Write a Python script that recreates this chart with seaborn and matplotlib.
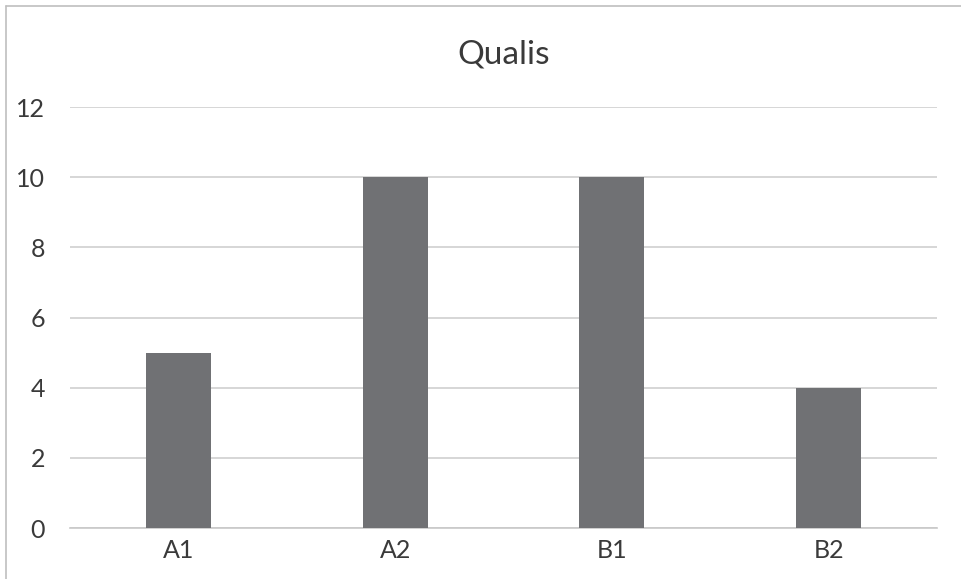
import matplotlib
matplotlib.use("Agg")
import matplotlib.pyplot as plt
from matplotlib.lines import Line2D
import seaborn as sns
import pandas as pd

categories = ["A1", "A2", "B1", "B2"]
values = [5, 10, 10, 4]
y_ticks = [0, 2, 4, 6, 8, 10, 12]

df = pd.DataFrame({"cat": categories, "val": values})

sns.set_theme(style="white")
plt.rcParams["font.family"] = ["Lato", "DejaVu Sans"]

W, H = 961, 579
fig = plt.figure(figsize=(W / 100, H / 100), dpi=100)
ax = fig.add_axes([70 / W, 1 - 528 / H, (937 - 70) / W, (528 - 107) / H])

sns.barplot(data=df, x="cat", y="val", color="#707174", width=0.3,
            saturation=1, linewidth=0, ax=ax, zorder=3)

ax.set_ylim(0, 12)
ax.set_yticks(y_ticks)
ax.set_xlim(-0.5, 3.5)
ax.yaxis.grid(True, color="#d0d0d0", linewidth=1.2, zorder=0)
ax.set_axisbelow(True)
for s in ["top", "right", "left"]:
    ax.spines[s].set_visible(False)
ax.spines["bottom"].set_color("#c8c8c8")
ax.spines["bottom"].set_linewidth(1.2)
ax.tick_params(axis="both", length=0, labelsize=18, colors="#3a3a3a")
ax.tick_params(axis="x", pad=8)
ax.tick_params(axis="y", pad=18)
ax.set_xlabel("")
ax.set_ylabel("")

fig.text(0.5 * (70 + 937) / W, 1 - 55 / H, "Qualis", ha="center", va="center",
         fontsize=24, color="#3a3a3a")

# chart frame (top and left edges)
fig.add_artist(Line2D([6 / W, 1], [1 - 6 / H, 1 - 6 / H], color="#bfbfbf", linewidth=1.2))
fig.add_artist(Line2D([6 / W, 6 / W], [0, 1 - 6 / H], color="#bfbfbf", linewidth=1.2))

fig.savefig("out.png", dpi=100)
